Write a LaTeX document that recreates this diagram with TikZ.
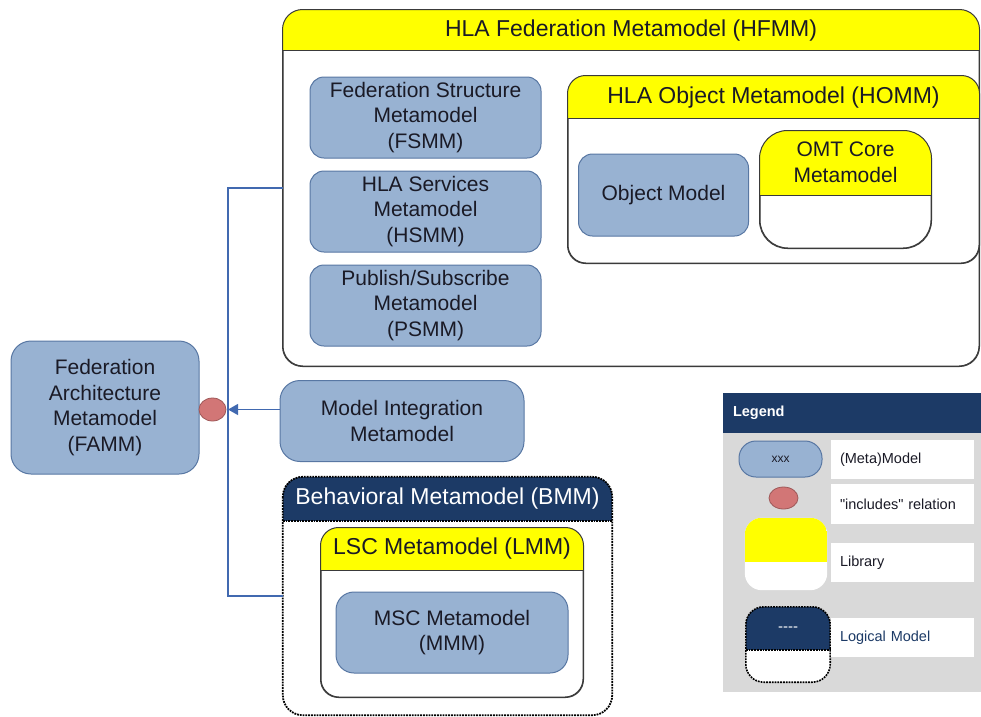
\documentclass[tikz,border=0pt]{standalone}
\usepackage{fontspec}
\setmainfont{Liberation Sans}[Ligatures=TeXOff]
\usetikzlibrary{calc,arrows.meta,shapes.geometric}

\definecolor{modelblue}{HTML}{98B2D2}
\definecolor{modeledge}{HTML}{5877A3}
\definecolor{navy}{HTML}{1C3A66}
\definecolor{inclred}{HTML}{D27676}
\definecolor{incledge}{HTML}{9E5858}
\definecolor{libyellow}{HTML}{FFFF00}
\definecolor{legendgray}{HTML}{D9D9D9}
\definecolor{connblue}{HTML}{4169B0}
\definecolor{txt}{HTML}{1A1A26}
\definecolor{frame}{HTML}{3A3A3A}

\tikzset{
  model/.style={draw=modeledge, fill=modelblue, line width=1pt, rounded corners=14pt,
    align=center, text=txt, font=\fontsize{21}{25.5}\selectfont, inner sep=0pt},
  container/.style={draw=frame, fill=white, line width=1pt, inner sep=0pt},
  hdrtitle/.style={text=txt, font=\fontsize{23}{27}\selectfont, inner sep=0pt},
  include/.style={ellipse, draw=incledge, fill=inclred, line width=0.8pt, inner sep=0pt},
  conn/.style={draw=connblue, line width=1.1pt},
  legendlabel/.style={fill=white, inner sep=0pt, minimum width=143pt, minimum height=39pt,
    text width=125pt, align=left, text=txt, font=\fontsize{14.5}{17}\selectfont},
  logicalframe/.style={draw=black, line width=1.8pt, densely dotted},
}

\begin{document}
\begin{tikzpicture}[x=1pt, y=-1pt]
\useasboundingbox (0,0) rectangle (981,716);

% ---------- HLA Federation Metamodel ----------
\node[container, rounded corners=20pt, minimum width=696pt, minimum height=356pt] (hfmm) at (631,188) {};
\begin{scope}
  \clip[rounded corners=20pt] (hfmm.north west) rectangle (hfmm.south east);
  \fill[libyellow] (hfmm.north west) rectangle ($(hfmm.north east)+(0,41)$);
\end{scope}
\draw[frame, line width=1pt] ($(hfmm.north west)+(0,41)$) -- ($(hfmm.north east)+(0,41)$);
\draw[frame, line width=1pt, rounded corners=20pt] (hfmm.north west) rectangle (hfmm.south east);
\node[hdrtitle] (hfmmtitle) at ($(hfmm.north)+(0,21)$) {HLA Federation Metamodel (HFMM)};

\node[model, minimum width=231pt, minimum height=81pt] (fsmm) at (425.5,117.5)
  {Federation Structure\\Metamodel\\(FSMM)};
\node[model, minimum width=231pt, minimum height=81pt] (hsmm) at (425.5,211.5)
  {HLA Services\\Metamodel\\(HSMM)};
\node[model, minimum width=231pt, minimum height=81pt] (psmm) at (425.5,305.5)
  {Publish/Subscribe\\Metamodel\\(PSMM)};

% ---------- HLA Object Metamodel ----------
\node[container, rounded corners=18pt, minimum width=411pt, minimum height=187pt] (homm) at (773.5,169.5) {};
\begin{scope}
  \clip[rounded corners=18pt] (homm.north west) rectangle (homm.south east);
  \fill[libyellow] (homm.north west) rectangle ($(homm.north east)+(0,43)$);
\end{scope}
\draw[frame, line width=1pt] ($(homm.north west)+(0,43)$) -- ($(homm.north east)+(0,43)$);
\draw[frame, line width=1pt, rounded corners=18pt] (homm.north west) rectangle (homm.south east);
\node[hdrtitle] (hommtitle) at ($(homm.north)+(0,22)$) {HLA Object Metamodel (HOMM)};

\node[model, minimum width=170pt, minimum height=82pt] (objmodel) at (663.5,195) {Object Model};

\node[container, rounded corners=28pt, minimum width=171pt, minimum height=117pt] (omt) at (845.5,189.5) {};
\begin{scope}
  \clip[rounded corners=28pt] (omt.north west) rectangle (omt.south east);
  \fill[libyellow] (omt.north west) rectangle ($(omt.north east)+(0,65)$);
\end{scope}
\draw[frame, line width=1pt] ($(omt.north west)+(0,65)$) -- ($(omt.north east)+(0,65)$);
\draw[frame, line width=1pt, rounded corners=28pt] (omt.north west) rectangle (omt.south east);
\node[align=center, text=txt, font=\fontsize{21}{26}\selectfont, inner sep=0pt] (omttitle)
  at ($(omt.north)+(0,32)$) {OMT Core\\Metamodel};

% ---------- Federation Architecture Metamodel ----------
\node[model, rounded corners=20pt, minimum width=188pt, minimum height=133pt] (famm) at (105,407.5)
  {Federation\\Architecture\\Metamodel\\(FAMM)};
\node[include, minimum width=27pt, minimum height=23pt] (incl) at (212.5,409.5) {};

\node[model, rounded corners=20pt, minimum width=244pt, minimum height=81pt] (mi) at (402,421)
  {Model Integration\\Metamodel};

% ---------- Behavioral Metamodel ----------
\node[inner sep=0pt, minimum width=329pt, minimum height=238pt] (bmm) at (447.5,596) {};
\fill[white, rounded corners=20pt] (bmm.north west) rectangle (bmm.south east);
\begin{scope}
  \clip[rounded corners=20pt] (bmm.north west) rectangle (bmm.south east);
  \fill[navy] (bmm.north west) rectangle ($(bmm.north east)+(0,44)$);
\end{scope}
\draw[logicalframe] ($(bmm.north west)+(0,44)$) -- ($(bmm.north east)+(0,44)$);
\draw[logicalframe, rounded corners=20pt] (bmm.north west) rectangle (bmm.south east);
\node[hdrtitle, text=white] (bmmtitle) at ($(bmm.north)+(0,22)$) {Behavioral Metamodel (BMM)};

\node[container, rounded corners=18pt, minimum width=262pt, minimum height=169pt] (lmm) at (452,612.5) {};
\begin{scope}
  \clip[rounded corners=18pt] (lmm.north west) rectangle (lmm.south east);
  \fill[libyellow] (lmm.north west) rectangle ($(lmm.north east)+(0,43)$);
\end{scope}
\draw[frame, line width=1pt] ($(lmm.north west)+(0,43)$) -- ($(lmm.north east)+(0,43)$);
\draw[frame, line width=1pt, rounded corners=18pt] (lmm.north west) rectangle (lmm.south east);
\node[hdrtitle] (lmmtitle) at ($(lmm.north)+(0,21)$) {LSC Metamodel (LMM)};

\node[model, rounded corners=18pt, minimum width=232pt, minimum height=81pt] (msc) at (452,632.5)
  {MSC Metamodel\\(MMM)};

% ---------- connectors ----------
\coordinate (rail) at (228,409.5);
\draw[conn] (hfmm.west) -| (rail) |- (bmm.west);
\draw[conn, -{Triangle[length=10pt, width=11pt]}] (incl.east -| mi.west) -- (incl.east -| rail);

% ---------- legend ----------
\node[fill=legendgray, inner sep=0pt, minimum width=260pt, minimum height=299pt] (legend) at (853,542.5) {};
\fill[navy] (legend.north west) rectangle ($(legend.north east)+(0,40)$);
\node[anchor=west, text=white, font=\bfseries\fontsize{14.5}{17}\selectfont, inner sep=0pt] (legendtitle)
  at ($(legend.north west)+(10,19.5)$) {Legend};

\node[model, rounded corners=17pt, minimum width=83pt, minimum height=36pt,
  font=\fontsize{12}{14}\selectfont] (lgmodel) at (780.5,459) {xxx};
\node[legendlabel] (lgmodeltxt) at (902.5,459.5) {(Meta)Model};

\node[include, minimum width=29pt, minimum height=22pt] (lgincl) at (783.5,498) {};
\node[legendlabel, minimum height=40pt] (lginclt) at (902.5,504) {"includes" relation};

\node[inner sep=0pt, minimum width=82pt, minimum height=72pt] (lglib) at (786,554) {};
\fill[white, rounded corners=17pt] (lglib.north west) rectangle (lglib.south east);
\begin{scope}
  \clip[rounded corners=17pt] (lglib.north west) rectangle (lglib.south east);
  \fill[libyellow] (lglib.north west) rectangle ($(lglib.north east)+(0,44)$);
\end{scope}
\node[legendlabel] (lglibtxt) at (902.5,562.5) {Library};

\node[inner sep=0pt, minimum width=84pt, minimum height=75pt] (lglog) at (788,644.5) {};
\fill[white, rounded corners=18pt] (lglog.north west) rectangle (lglog.south east);
\begin{scope}
  \clip[rounded corners=18pt] (lglog.north west) rectangle (lglog.south east);
  \fill[navy] (lglog.north west) rectangle ($(lglog.north east)+(0,43)$);
\end{scope}
\draw[logicalframe, line width=1.6pt] ($(lglog.north west)+(0,43)$) -- ($(lglog.north east)+(0,43)$);
\draw[logicalframe, line width=1.6pt, rounded corners=18pt] (lglog.north west) rectangle (lglog.south east);
\node[text=white, font=\fontsize{15}{17}\selectfont, inner sep=0pt] (lglogmark)
  at ($(lglog.north)+(0,22)$) {----};
\node[legendlabel, text=navy] (lglogtxt) at (902.5,637.5) {Logical Model};

\end{tikzpicture}
\end{document}
